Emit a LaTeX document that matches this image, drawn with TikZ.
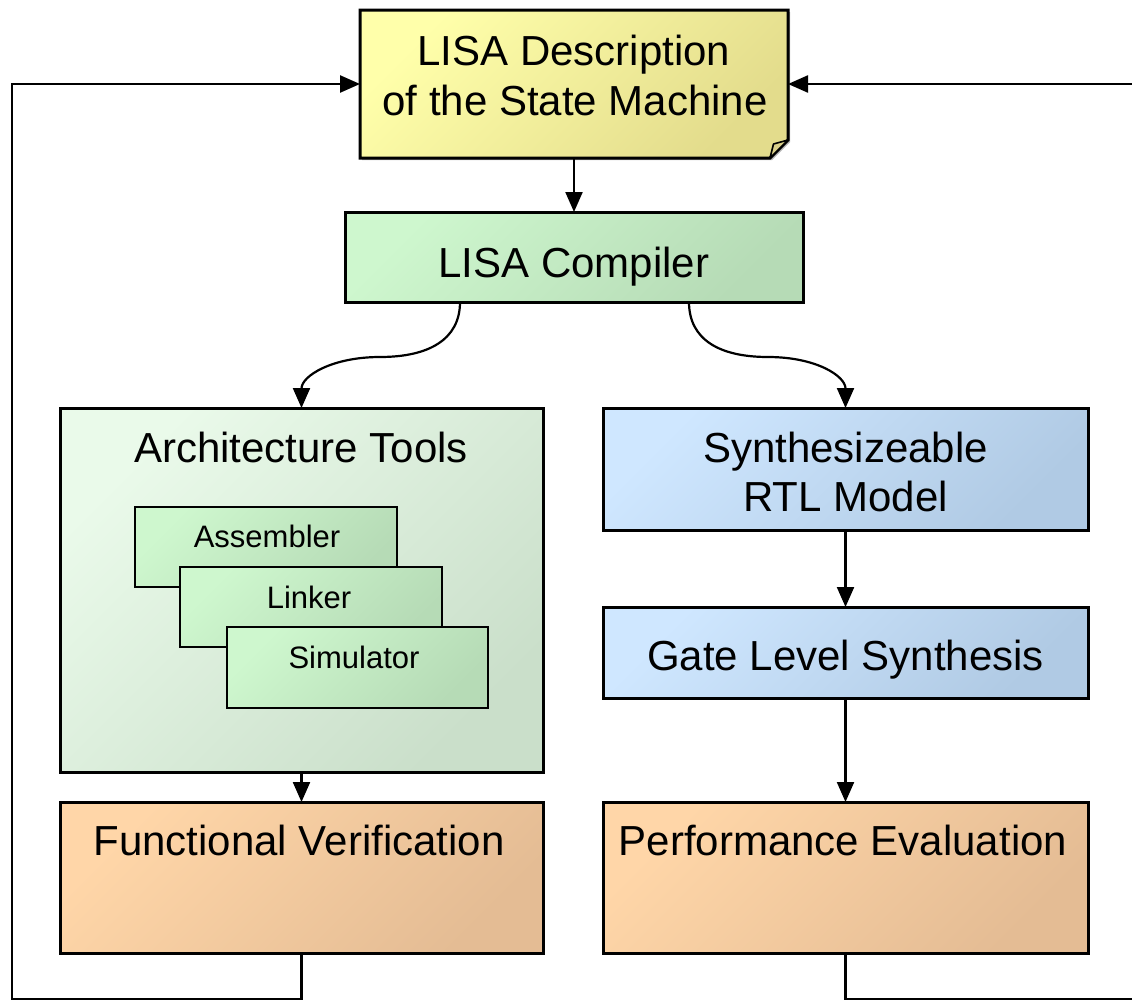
\documentclass[tikz,border=0pt]{standalone}
\usepackage{fontspec}
\setmainfont{Liberation Sans}
\usetikzlibrary{arrows.meta,shadows}
\definecolor{yelA}{HTML}{FFFFAA}
\definecolor{yelB}{HTML}{E3DC8C}
\definecolor{yelF}{HTML}{D9CF8A}
\definecolor{grnA}{HTML}{CEF7CE}
\definecolor{grnB}{HTML}{B6DBB6}
\definecolor{palA}{HTML}{EAFAEA}
\definecolor{palB}{HTML}{CADFCA}
\definecolor{bluA}{HTML}{CFE7FF}
\definecolor{bluB}{HTML}{B0CAE4}
\definecolor{orgA}{HTML}{FFD6A8}
\definecolor{orgB}{HTML}{E4BC94}
\tikzset{tipA/.tip={Triangle[length=20pt,width=17pt]}}
\begin{document}
\begin{tikzpicture}[x=1pt,y=-1pt,
  shd/.style={drop shadow={shadow xshift=2pt,shadow yshift=-2pt,fill=black!60,opacity=0.5}},
  box/.style 2 args={draw=black,line width=3pt,shd,top color=#1,bottom color=#2,shading angle=45,inner sep=0pt,outer sep=0pt},
  sbox/.style 2 args={draw=black,line width=2.4pt,top color=#1,bottom color=#2,shading angle=45,inner sep=0pt,outer sep=0pt},
  big/.style={font=\fontsize{42pt}{50pt}\selectfont,anchor=base,inner sep=0pt},
  small/.style={font=\fontsize{31pt}{37pt}\selectfont,anchor=base,inner sep=0pt},
  arr/.style={line width=2.2pt,-tipA},
  fb/.style={line width=2.4pt,-tipA}]
\useasboundingbox (0,0) rectangle (1132,1001);
\fill[white] (0,0) rectangle (1132,1001);

% top box with dog-ear
\node[minimum width=428pt,minimum height=148pt,inner sep=0pt,outer sep=0pt] (desc) at (574,84) {};
\path[draw=black,line width=3pt,line join=miter,shd,top color=yelA,bottom color=yelB,shading angle=45]
  (desc.north west) -- (desc.north east) -- ([yshift=18pt]desc.south east)
  -- ([xshift=-18pt]desc.south east) -- (desc.south west) -- cycle;
\draw[line width=1.6pt,fill=yelF,line join=round] ([yshift=18pt]desc.south east) -- ([xshift=-18pt]desc.south east) -- (773.5,144) -- cycle;
\node[big] (tDescA) at (574,65) {LISA Description};
\node[big] (tDescB) at (575,115) {of the State Machine};

% compiler
\node[box={grnA}{grnB},minimum width=458pt,minimum height=90pt] (comp) at (574,257) {};
\node[big] (tComp) at (574,277) {LISA Compiler};

% architecture tools
\node[box={palA}{palB},minimum width=483pt,minimum height=364pt] (arch) at (301.5,590) {};
\node[big] (tArch) at (301,462) {Architecture Tools};
\node[sbox={grnA}{grnB},minimum width=262pt,minimum height=80pt] (asm) at (266,547) {};
\node[small] (tAsm) at (267,547) {Assembler};
\node[sbox={grnA}{grnB},minimum width=262pt,minimum height=80pt] (lnk) at (311,607) {};
\node[small] (tLnk) at (309,608) {Linker};
\node[sbox={grnA}{grnB},minimum width=261pt,minimum height=81pt] (sim) at (357.5,667.5) {};
\node[small] (tSim) at (354,668) {Simulator};

% RTL and gate level
\node[box={bluA}{bluB},minimum width=485pt,minimum height=122pt] (rtl) at (845.5,469) {};
\node[big] (tRtlA) at (845.5,462) {Synthesizeable};
\node[big] (tRtlB) at (845.5,511) {RTL Model};
\node[box={bluA}{bluB},minimum width=485pt,minimum height=91pt] (gate) at (845.5,652.5) {};
\node[big] (tGate) at (845.5,670) {Gate Level Synthesis};

% verification / evaluation
\node[box={orgA}{orgB},minimum width=483pt,minimum height=151pt] (func) at (301.5,877.5) {};
\node[big] (tFunc) at (299,855) {Functional Verification};
\node[box={orgA}{orgB},minimum width=485pt,minimum height=151pt] (perf) at (845.5,877.5) {};
\node[big] (tPerf) at (843,855) {Performance Evaluation};

% connectors
\draw[arr] (desc.south) -- (comp.north);
\coordinate (cl) at (380,357);
\coordinate (cr) at (768,357);
\draw[arr] ([xshift=-114pt]comp.south) .. controls +(0,38) and +(48,0) .. (cl)
  .. controls +(-48,0) and +(0,-32) .. (arch.north);
\draw[arr] ([xshift=115pt]comp.south) .. controls +(0,38) and +(-48,0) .. (cr)
  .. controls +(48,0) and +(0,-32) .. (rtl.north);
\draw[arr] (rtl.south) -- (gate.north);
\draw[arr] (gate.south) -- (perf.north);
\draw[arr] (arch.south) -- (func.north);

% feedback loops
\coordinate (lb) at (12,999);
\coordinate (rb) at (1150,999);
\draw[fb] (func.south) |- (lb) |- (desc.west);
\draw[fb] (perf.south) |- (rb) |- (desc.east);
\end{tikzpicture}
\end{document}
